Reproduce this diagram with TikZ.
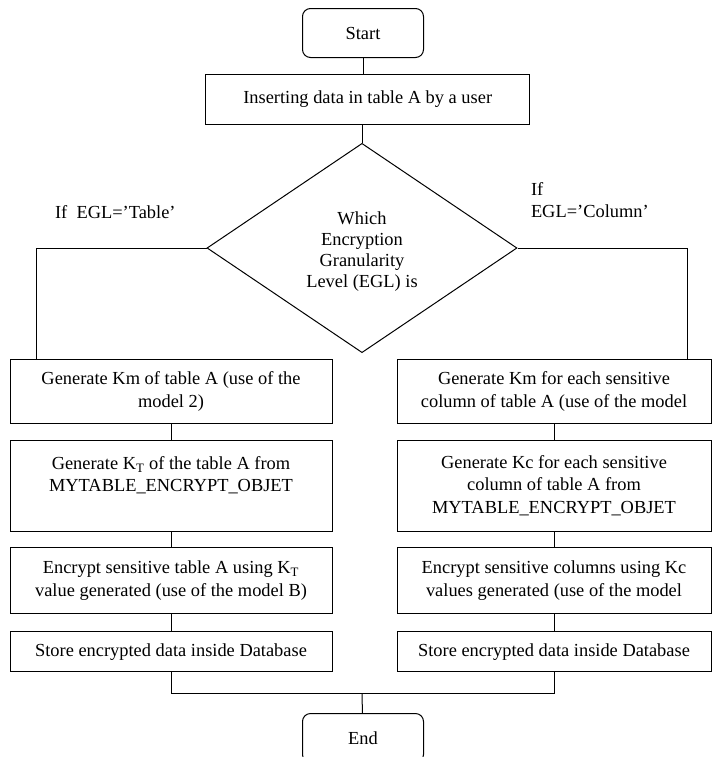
\documentclass[tikz,border=0pt]{standalone}
\usepackage{fontspec}
\setmainfont{Liberation Serif}
\usetikzlibrary{shapes.geometric}

\tikzset{every picture/.style={line width=0.75pt}}
\tikzset{
  termbox/.style={draw, rounded corners=6pt, minimum width=90.75pt, minimum height=36.75pt, inner sep=0.75pt},
  stepbox/.style={draw, inner sep=0.75pt, align=center},
  decision/.style={draw, diamond, inner sep=0pt, minimum width=232.5pt, minimum height=157pt},
  branchlbl/.style={inner sep=0.75pt, align=left}
}

\begin{document}
\begin{tikzpicture}[x=0.75pt,y=0.75pt,yscale=-1,xscale=1,font=\fontsize{13.8}{17}\selectfont]
\useasboundingbox (0,0) rectangle (712,757); %set diagram size to 712 x 757

%Shape: Rounded Rect [id:start]
\node [termbox] (start) at (363,33) {Start};
%Shape: Rectangle [id:insert]
\node [stepbox, minimum width=243pt, minimum height=37.5pt] (insert) at (367.7,99) {Inserting data in table A by a user};
%Shape: Diamond [id:dec]
\node [decision] (dec) at (362,248) {};
% Text Node
\node [align=center, inner sep=0.75pt, font=\fontsize{13.8}{15.9}\selectfont] (dectxt) at (362,251.5) {Which\\Encryption\\Granularity\\Level (EGL) is};

% Text Node
\node [branchlbl, anchor=west] (iftab) at (53.6,212) {If\ \ EGL='Table'};
% Text Node
\node [branchlbl, anchor=west] (ifcol) at (529.5,200) {If\\EGL='Column'};

%Shape: Rectangle [id:l1]
\node [stepbox, minimum width=241.5pt, minimum height=48pt] (l1) at (171,391.7) {Generate Km of table A (use of the\\model 2)};
%Shape: Rectangle [id:l2]
\node [stepbox, minimum width=241.5pt, minimum height=68.25pt] (l2) at (171,485.5) {Generate K\textsubscript{T} of the table A from\\MYTABLE\_ENCRYPT\_OBJET\\~};
%Shape: Rectangle [id:l3]
\node [stepbox, minimum width=241.5pt, minimum height=49.5pt] (l3) at (171,580.3) {Encrypt sensitive table A using K\textsubscript{T}\\value generated (use of the model B)};
%Shape: Rectangle [id:l4]
\node [stepbox, minimum width=241.5pt, minimum height=30pt] (l4) at (171,651.7) {Store encrypted data inside Database};

%Shape: Rectangle [id:r1]
\node [stepbox, minimum width=235.5pt, minimum height=48pt] (r1) at (554,391.7) {Generate Km for each sensitive\\column of table A (use of the model};
%Shape: Rectangle [id:r2]
\node [stepbox, minimum width=235.5pt, minimum height=68.25pt] (r2) at (554,485.5) {Generate Kc for each sensitive\\column of table A from\\MYTABLE\_ENCRYPT\_OBJET};
%Shape: Rectangle [id:r3]
\node [stepbox, minimum width=235.5pt, minimum height=49.5pt] (r3) at (554,580.3) {Encrypt sensitive columns using Kc\\values generated (use of the model};
%Shape: Rectangle [id:r4]
\node [stepbox, minimum width=235.5pt, minimum height=30pt] (r4) at (554,651.7) {Store encrypted data inside Database};

%Shape: Rounded Rect [id:end]
\node [termbox] (end) at (363,738) {End};

\coordinate (lturn) at (36.4,248);
\coordinate (rturn) at (687,248);
\coordinate (merge) at (362,693.3);

%Straight Lines
\draw (start) -- (start |- insert.north);
\draw (dec.north |- insert.south) -- (dec);
\draw (dec.west) -- (lturn) -- (lturn |- l1.north);
\draw (dec.east) -- (rturn) -- (rturn |- r1.north);
\draw (l1) -- (l2) -- (l3) -- (l4);
\draw (r1) -- (r2) -- (r3) -- (r4);
\draw (l4.south) |- (merge) -| (r4.south);
\draw (merge) -- (end);

\end{tikzpicture}
\end{document}
